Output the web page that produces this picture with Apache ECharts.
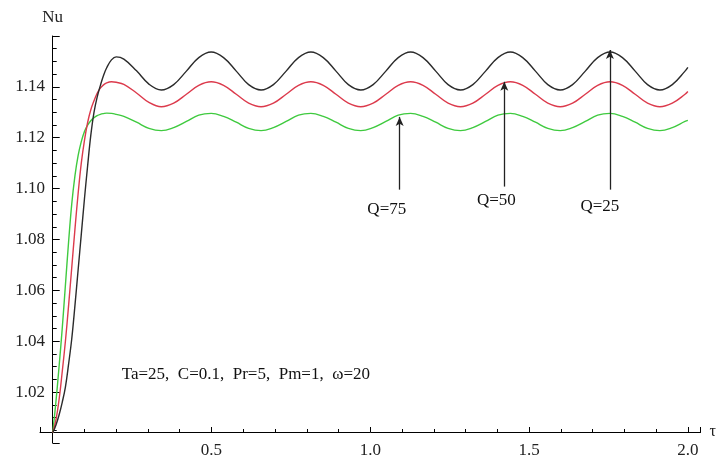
<!DOCTYPE html>
<html>
<head>
<meta charset="utf-8">
<script src="https://cdn.jsdelivr.net/npm/echarts@6/dist/echarts.min.js"></script>
<style>
html,body{margin:0;padding:0;background:#fff;}
#c{width:719px;height:459px;}
</style>
</head>
<body>
<div id="c"></div>
<script>
// time values (tau)
const tau = [
  0, 0.01, 0.02, 0.03, 0.04, 0.05, 0.06, 0.07, 0.08, 0.09, 0.10, 0.11, 0.12, 0.13, 0.14, 0.15, 0.16, 0.17,
  0.185, 0.200, 0.224, 0.264, 0.303, 0.342, 0.381, 0.421, 0.460,
  0.499, 0.538, 0.578, 0.617, 0.656, 0.695, 0.735, 0.774,
  0.813, 0.852, 0.892, 0.931, 0.970, 1.009, 1.049, 1.088,
  1.127, 1.166, 1.206, 1.245, 1.284, 1.323, 1.363, 1.402,
  1.441, 1.480, 1.520, 1.559, 1.598, 1.637, 1.677, 1.716,
  1.755, 1.794, 1.834, 1.873, 1.912, 1.951, 1.991, 2.000
];
// Nu for Q=25 (black)
const nuQ25 = [
  1.004, 1.007, 1.011, 1.016, 1.022, 1.031, 1.041, 1.054, 1.068, 1.082, 1.096, 1.109, 1.121, 1.130, 1.136, 1.1405, 1.1445, 1.1475,
  1.1506, 1.1518, 1.1509, 1.1463, 1.1411, 1.1388, 1.1409, 1.1462, 1.1515,
  1.1537, 1.1515, 1.1462, 1.1409, 1.1388, 1.1409, 1.1462, 1.1515,
  1.1537, 1.1515, 1.1462, 1.1409, 1.1388, 1.1409, 1.1462, 1.1515,
  1.1537, 1.1515, 1.1462, 1.1409, 1.1388, 1.1409, 1.1462, 1.1515,
  1.1537, 1.1515, 1.1462, 1.1409, 1.1388, 1.1409, 1.1462, 1.1515,
  1.1537, 1.1515, 1.1462, 1.1409, 1.1388, 1.1409, 1.1462, 1.1477
];
// Nu for Q=50 (red)
const nuQ50 = [
  1.004, 1.009, 1.017, 1.028, 1.040, 1.054, 1.069, 1.084, 1.098, 1.110, 1.119, 1.126, 1.131, 1.1345, 1.1375, 1.1395, 1.1408, 1.1416,
  1.1420, 1.1418, 1.1410, 1.1376, 1.1339, 1.1322, 1.1336, 1.1371, 1.1406,
  1.1420, 1.1406, 1.1371, 1.1336, 1.1322, 1.1336, 1.1371, 1.1406,
  1.1420, 1.1406, 1.1371, 1.1336, 1.1322, 1.1336, 1.1371, 1.1406,
  1.1420, 1.1406, 1.1371, 1.1336, 1.1322, 1.1336, 1.1371, 1.1406,
  1.1420, 1.1406, 1.1371, 1.1336, 1.1322, 1.1336, 1.1371, 1.1406,
  1.1420, 1.1406, 1.1371, 1.1336, 1.1322, 1.1336, 1.1371, 1.1382
];
// Nu for Q=75 (green)
const nuQ75 = [
  1.004, 1.016, 1.030, 1.045, 1.062, 1.079, 1.094, 1.105, 1.113, 1.1185, 1.1225, 1.125, 1.1267, 1.1279, 1.1287, 1.1292, 1.1295, 1.1297,
  1.1296, 1.1292, 1.1284, 1.1261, 1.1237, 1.1228, 1.1240, 1.1264, 1.1289,
  1.1296, 1.1284, 1.1261, 1.1237, 1.1228, 1.1240, 1.1264, 1.1289,
  1.1296, 1.1284, 1.1261, 1.1237, 1.1228, 1.1240, 1.1264, 1.1289,
  1.1296, 1.1284, 1.1261, 1.1237, 1.1228, 1.1240, 1.1264, 1.1289,
  1.1296, 1.1284, 1.1261, 1.1237, 1.1228, 1.1240, 1.1264, 1.1289,
  1.1296, 1.1284, 1.1261, 1.1237, 1.1228, 1.1240, 1.1264, 1.1268
];
// annotation labels
const qLabels = ['Q=75', 'Q=50', 'Q=25'];
const arrowTau = [1.0925, 1.422, 1.7545];
const arrowFrom = [1.0996, 1.1008, 1.0996];
const arrowTo = [1.1282, 1.1420, 1.1545];
const labelTau = [1.052, 1.397, 1.723];
const labelNu = [1.0918, 1.0953, 1.0929];
const paramText = 'Ta=25,\u2002C=0.1,\u2002Pr=5,\u2002Pm=1,\u2002\u03c9=20';
const paramPos = [0.2173, 1.0271];

const FONT = '"Liberation Serif", "Times New Roman", serif';
const pairs = ys => tau.map((t, i) => [t, ys[i]]);

const chart = echarts.init(document.getElementById('c'));
chart.setOption({
  animation: false,
  backgroundColor: '#ffffff',
  grid: {left: 40, right: 13, top: 36, bottom: 15},
  xAxis: {
    type: 'value', min: -0.04, max: 2.04, splitNumber: 4, offset: -11,
    name: '\u03c4', nameLocation: 'end', nameGap: 9,
    nameTextStyle: {fontFamily: FONT, fontSize: 16, color: '#222'},
    axisLine: {show: true, lineStyle: {color: '#000'}},
    axisTick: {show: true, inside: true, length: 5, lineStyle: {color: '#000'}},
    minorTick: {show: true, splitNumber: 5, length: 3, lineStyle: {color: '#000'}},
    splitLine: {show: false},
    axisLabel: {
      margin: 10, fontFamily: FONT, fontSize: 17, color: '#222',
      formatter: v => (v > 0.01 && v < 2.01) ? v.toFixed(1) : ''
    }
  },
  yAxis: {
    type: 'value', min: 1.00, max: 1.16, interval: 0.02,
    name: 'Nu', nameLocation: 'end', nameGap: 10,
    nameTextStyle: {fontFamily: FONT, fontSize: 17, color: '#222', align: 'center'},
    axisLine: {show: true, lineStyle: {color: '#000'}},
    axisTick: {show: true, inside: true, length: 7, lineStyle: {color: '#000'}},
    minorTick: {show: true, splitNumber: 4, length: 4, lineStyle: {color: '#000'}},
    splitLine: {show: false},
    axisLabel: {
      margin: -5, fontFamily: FONT, fontSize: 17, color: '#222',
      formatter: v => (v > 1.001 && v < 1.159) ? v.toFixed(2) : ''
    }
  },
  series: [
    {
      name: 'Q=75', type: 'line',
      data: pairs(nuQ75), showSymbol: false, smooth: 0.4,
      lineStyle: {color: '#3fca3f', width: 1.4}, silent: true
    },
    {
      name: 'Q=50', type: 'line',
      data: pairs(nuQ50), showSymbol: false, smooth: 0.4,
      lineStyle: {color: '#dc3a4c', width: 1.4}, silent: true
    },
    {
      name: 'Q=25', type: 'line',
      data: pairs(nuQ25), showSymbol: false, smooth: 0.4,
      lineStyle: {color: '#2b2b2b', width: 1.4}, silent: true,
      markLine: {
        silent: true, animation: false,
        symbol: ['none', 'arrow'], symbolSize: [6, 9],
        lineStyle: {color: '#222', width: 1.3, type: 'solid'},
        label: {show: false},
        emphasis: {disabled: true},
        data: arrowTau.map((t, i) => [
          {coord: [t, arrowFrom[i]]},
          {coord: [t, arrowTo[i]]}
        ])
      },
      markPoint: {
        silent: true, animation: false,
        symbol: 'circle', symbolSize: 0,
        itemStyle: {color: 'rgba(0,0,0,0)'},
        data: qLabels.map((q, i) => ({
          name: q, coord: [labelTau[i], labelNu[i]],
          label: {show: true, position: 'inside', formatter: '{b}',
                  fontFamily: FONT, fontSize: 17, color: '#111'}
        })).concat([{
          name: paramText, coord: paramPos,
          label: {show: true, position: 'right', distance: 0, formatter: '{b}',
                  fontFamily: FONT, fontSize: 17, color: '#111'}
        }])
      }
    }
  ]
});
</script>
</body>
</html>
